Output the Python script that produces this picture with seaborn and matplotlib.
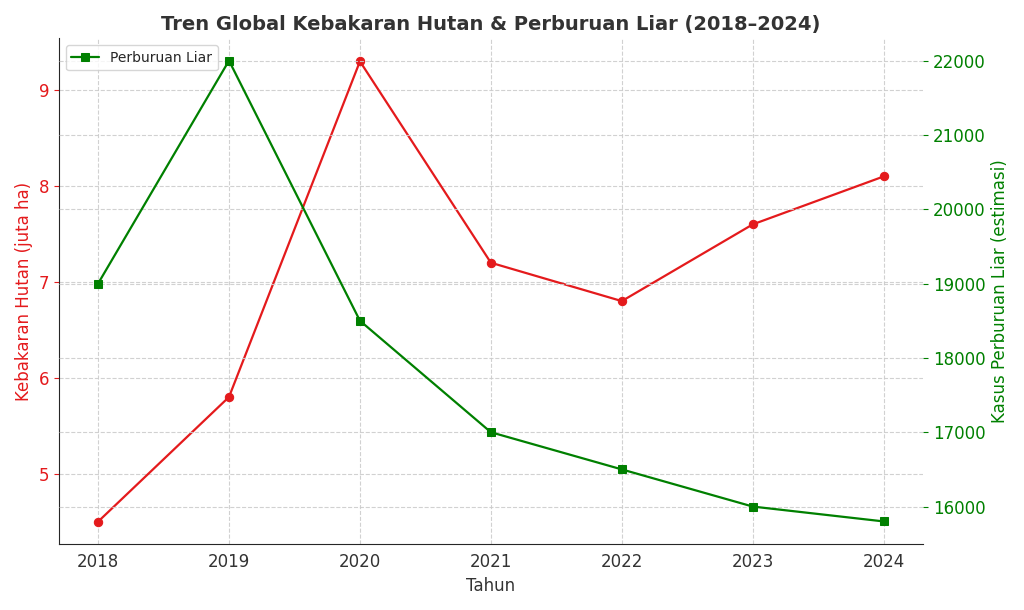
import matplotlib
matplotlib.use("Agg")
import matplotlib.pyplot as plt
import seaborn as sns
import pandas as pd

# data
tahun = [2018, 2019, 2020, 2021, 2022, 2023, 2024]
kebakaran = [4.5, 5.8, 9.3, 7.2, 6.8, 7.6, 8.1]
perburuan = [19000, 22000, 18500, 17000, 16500, 16000, 15800]

df = pd.DataFrame({"Tahun": tahun, "Kebakaran": kebakaran, "Perburuan": perburuan})

sns.set_style("white")
plt.rcParams['font.family'] = ['DejaVu Sans']

fig, ax1 = plt.subplots(figsize=(10.24, 6.1), dpi=100)
sns.lineplot(data=df, x="Tahun", y="Kebakaran", ax=ax1, color="#e41a1c", marker="o",
             markeredgecolor="#e41a1c", linewidth=1.6, label="Kebakaran Hutan", legend=False)
ax1.set_ylabel("Kebakaran Hutan (juta ha)", color="#e41a1c", fontsize=12)
ax1.set_xlabel("Tahun", fontsize=12, color="#333333")
ax1.tick_params(axis="y", colors="#e41a1c", labelsize=12)
ax1.tick_params(axis="x", labelsize=12, colors="#333333")
ax1.set_ylim(4.27, 9.54)
ax1.set_xlim(2017.7, 2024.3)
ax1.grid(True, linestyle="--", color="#cccccc", alpha=0.9)
ax1.spines["top"].set_visible(False)
ax1.spines["right"].set_visible(False)

ax2 = ax1.twinx()
sns.lineplot(data=df, x="Tahun", y="Perburuan", ax=ax2, color="green", marker="s",
             markeredgecolor="green", linewidth=1.6, label="Perburuan Liar")
ax2.set_ylabel("Kasus Perburuan Liar (estimasi)", color="green", fontsize=12)
ax2.tick_params(axis="y", colors="green", labelsize=12)
ax2.set_ylim(15500, 22300)
ax2.grid(True, linestyle="--", color="#cccccc", alpha=0.9)
for s in ["top", "right", "left", "bottom"]:
    ax2.spines[s].set_visible(False)
ax2.legend(loc="upper left", fontsize=10)

ax1.set_title("Tren Global Kebakaran Hutan & Perburuan Liar (2018–2024)",
              fontsize=14, fontweight="bold", color="#333333")
fig.tight_layout()
fig.savefig("out.png", dpi=100)
